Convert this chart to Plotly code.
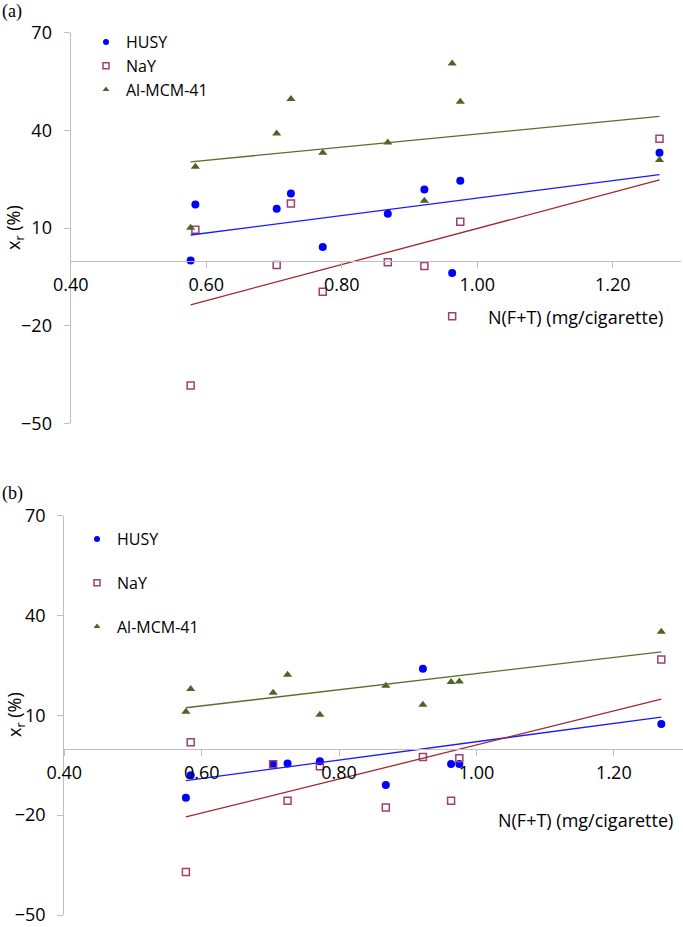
import numpy as np
import plotly.graph_objects as go

# ---- data ----
x_nft = [0.577, 0.584, 0.704, 0.725, 0.772, 0.868, 0.922, 0.963, 0.975, 1.269]

husy_a = [0.0, 17.2, 15.9, 20.6, 4.2, 14.4, 21.8, -3.8, 24.5, 33.1]
nay_a = [-38.4, 9.5, -1.4, 17.5, -9.6, -0.5, -1.7, -17.1, 11.9, 37.4]
mcm_a = [10.1, 28.8, 39.0, 49.6, 33.1, 36.3, 18.4, 60.5, 48.8, 30.9]

husy_b = [-14.8, -8.0, -4.7, -4.5, -3.8, -10.9, 24.0, -4.6, -4.6, 7.4]
nay_b = [-37.1, 1.9, -4.7, -15.7, -5.3, -17.7, -2.5, -15.7, -2.9, 26.8]
mcm_b = [11.1, 17.9, 16.8, 22.2, 10.2, 18.9, 13.2, 20.0, 20.2, 35.1]

y_ticks = [-50, -20, 10, 40, 70]
x_ticks = [0.40, 0.60, 0.80, 1.00, 1.20]
x_tick_text = ["0.40", "0.60", "0.80", "1.00", "1.20"]
series_names = ["HUSY", "NaY", "Al-MCM-41"]

# ---- styles ----
W, H = 683, 927
FONT = "Open Sans"
FS = 18
LFS = 16
AX_COLOR = "#bfbfbf"
colors = ["#0000ff", "#a0406e", "#4f6228"]
symbols = ["circle", "square-open", "triangle-up"]
sizes = [8, 7, 8]
legend_sizes = [6, 6, 6]
trend_colors = ["#1a1aff", "#a3262e", "#5a6e2c"]

def mk(i, size):
    m = dict(symbol=symbols[i], size=size, color=colors[i])
    if symbols[i] == "square-open":
        m["line"] = dict(width=1.5, color=colors[i])
    return m

fig = go.Figure()

panels = [
    dict(data=[husy_a, nay_a, mcm_a], xa="x", ya="y", legend="legend"),
    dict(data=[husy_b, nay_b, mcm_b], xa="x2", ya="y2", legend="legend2"),
]

xs = np.array(x_nft)
for p in panels:
    for i, ys in enumerate(p["data"]):
        fig.add_trace(go.Scatter(
            x=x_nft, y=ys, mode="markers", name=series_names[i],
            marker=mk(i, sizes[i]), xaxis=p["xa"], yaxis=p["ya"],
            showlegend=False, cliponaxis=False,
        ))
        # legend entry with smaller symbol (as in the reference)
        fig.add_trace(go.Scatter(
            x=[None], y=[None], mode="markers", name=series_names[i],
            marker=mk(i, legend_sizes[i]), xaxis=p["xa"], yaxis=p["ya"],
            legend=p["legend"], legendgroup=p["legend"] + series_names[i],
            showlegend=True,
        ))
    for i, ys in enumerate(p["data"]):
        k, b = np.polyfit(xs, np.array(ys), 1)
        xl = np.array([xs.min(), xs.max()])
        fig.add_trace(go.Scatter(
            x=xl, y=k * xl + b, mode="lines", showlegend=False,
            line=dict(color=trend_colors[i], width=1.3),
            xaxis=p["xa"], yaxis=p["ya"], hoverinfo="skip",
        ))

# pixel-based domains
def px_x(v):
    return v / W

def px_y(v):
    return 1 - v / H

ya_dom = [px_y(423.3), px_y(32.7)]
yb_dom = [px_y(915.0), px_y(515.7)]
xa_dom = [px_x(70.7), px_x(680.5)]
xb_dom = [px_x(64.3), px_x(682.6)]

y_range = [-50, 70]
def zero_pos(dom):
    return dom[0] + (0 - y_range[0]) / (y_range[1] - y_range[0]) * (dom[1] - dom[0])

tick_font = dict(family=FONT, size=FS, color="#000000")
common_x = dict(
    range=[0.4, 1.3], tickvals=x_ticks, ticktext=x_tick_text, showgrid=False,
    zeroline=False, showline=True, linecolor=AX_COLOR, linewidth=1.3,
    ticks="outside", ticklen=6, tickcolor=AX_COLOR, tickfont=tick_font,
    anchor="free", automargin=False, ticklabelstandoff=2,
)
common_y = dict(
    range=y_range, tickvals=y_ticks, showgrid=False, zeroline=False,
    showline=True, linecolor=AX_COLOR, linewidth=1.3, ticks="outside",
    ticklen=6, tickcolor=AX_COLOR, tickfont=tick_font, automargin=False,
    ticklabelstandoff=8,
)

leg_common = dict(
    xanchor="left", yanchor="top",
    font=dict(family=FONT, size=LFS, color="#000000"),
    bgcolor="rgba(0,0,0,0)", itemwidth=30, traceorder="grouped",
)

fig.update_layout(
    width=W, height=H, margin=dict(l=0, r=0, t=0, b=0, autoexpand=False),
    paper_bgcolor="white", plot_bgcolor="white",
    xaxis=dict(domain=xa_dom, position=zero_pos(ya_dom), **common_x),
    yaxis=dict(domain=ya_dom, anchor="x", **common_y),
    xaxis2=dict(domain=xb_dom, position=zero_pos(yb_dom), **common_x),
    yaxis2=dict(domain=yb_dom, anchor="x2", **common_y),
    legend=dict(x=px_x(86), y=px_y(25), tracegroupgap=0, **leg_common),
    legend2=dict(x=px_x(77), y=px_y(522), tracegroupgap=20, **leg_common),
    showlegend=True,
)

# axis titles and panel labels
txt_font = dict(family=FONT, size=FS, color="#000000")
annos = [
    dict(text="N(F+T) (mg/cigarette)", x=px_x(665), y=px_y(317), xanchor="right", yanchor="middle"),
    dict(text="N(F+T) (mg/cigarette)", x=px_x(675), y=px_y(820), xanchor="right", yanchor="middle"),
    dict(text="x<sub>r</sub> (%)", x=px_x(15), y=px_y(228), xanchor="center", yanchor="middle", textangle=-90),
    dict(text="x<sub>r</sub> (%)", x=px_x(15), y=px_y(715), xanchor="center", yanchor="middle", textangle=-90),
]
for a in annos:
    fig.add_annotation(xref="paper", yref="paper", showarrow=False, font=txt_font, **a)
for lab, yy in [("(a)", 11), ("(b)", 494)]:
    fig.add_annotation(xref="paper", yref="paper", showarrow=False, text=lab,
                       x=0, y=px_y(yy), xanchor="left", yanchor="middle",
                       font=dict(family="Liberation Serif", size=18, color="#000000"))

fig.write_html(
    "out.html",
    config={"displayModeBar": False},
    post_script="document.body.style.margin='0';document.body.style.overflow='hidden';",
)
